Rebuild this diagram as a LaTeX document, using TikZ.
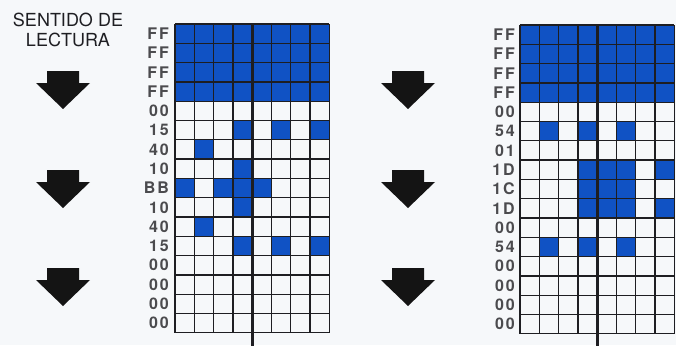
\documentclass[tikz,border=0pt]{standalone}
\usepackage{fontspec}
\setmainfont{TeX Gyre Heros}
\newfontfamily\hexfont[LetterSpace=12]{TeX Gyre Heros}
\usepackage{xcolor}
\usetikzlibrary{positioning}
\definecolor{bitblue}{RGB}{16,82,196}
\definecolor{gridink}{RGB}{30,30,34}
\definecolor{paper}{RGB}{246,248,250}

\begin{document}
\begin{tikzpicture}[
  x=1pt, y=-1pt,
  every node/.style={inner sep=0pt},
  bit/.style={fill=bitblue},
  gridline/.style={draw=gridink, line width=1.3pt},
  axisline/.style={draw=gridink, line width=2.6pt},
  hexlbl/.style={anchor=east, font=\hexfont\bfseries\fontsize{16}{16}\selectfont, text=gridink!80},
  title/.style={font=\fontsize{18}{20}\selectfont, text=gridink},
  readarrow/.style={fill=black!92},
]
\fill[paper] (0,0) rectangle (676,345);
\useasboundingbox (0,0) rectangle (676,345);
% heading
\node[title] (title1) at (68,20) {SENTIDO DE};
\node[title, below=6pt of title1] (title2) {LECTURA};
% reading arrows
\foreach \ax/\ay in {63/71, 63/170, 63/268, 408/71, 408/170, 408/268}
  \fill[readarrow] (\ax-16,\ay) -- (\ax+16,\ay) -- (\ax+16,\ay+12) -- (\ax+27,\ay+12)
    -- (\ax,\ay+38) -- (\ax-27,\ay+12) -- (\ax-16,\ay+12) -- cycle;
% left grid
\begin{scope}[shift={(175,24)}]
  \fill[bit] (0,0) rectangle (8*19.3,4*19.3);
  \foreach \r/\c in {5/4,5/6,5/8, 6/2, 7/4, 8/1,8/3,8/4,8/5, 9/4, 10/2, 11/4,11/6,11/8}
    \fill[bit] ({(\c-1)*19.3},{\r*19.3}) rectangle ++(19.3,19.3);
  \foreach \i in {0,...,8}
    \draw[gridline] (\i*19.3,0) -- (\i*19.3,16*19.3);
  \foreach \j in {0,...,16}
    \draw[gridline] (0,\j*19.3) -- (8*19.3,\j*19.3);
  \draw[axisline] (4*19.3,0) -- (4*19.3,322);
  \foreach \t [count=\r from 0] in {FF,FF,FF,FF,00,15,40,10,BB,10,40,15,00,00,00,00}
    \node[hexlbl] (lhex\r) at (-6,\r*19.3+9.65) {\t};
\end{scope}
% right grid
\begin{scope}[shift={(520,25)}]
  \fill[bit] (0,0) rectangle (8*19.3,4*19.3);
  \foreach \r/\c in {5/2,5/4,5/6, 7/4,7/5,7/6,7/8, 8/4,8/5,8/6, 9/4,9/5,9/6,9/8, 11/2,11/4,11/6}
    \fill[bit] ({(\c-1)*19.3},{\r*19.3}) rectangle ++(19.3,19.3);
  \foreach \i in {0,...,8}
    \draw[gridline] (\i*19.3,0) -- (\i*19.3,16*19.3);
  \foreach \j in {0,...,16}
    \draw[gridline] (0,\j*19.3) -- (8*19.3,\j*19.3);
  \draw[axisline] (4*19.3,0) -- (4*19.3,321);
  \foreach \t [count=\r from 0] in {FF,FF,FF,FF,00,54,01,1D,1C,1D,00,54,00,00,00,00}
    \node[hexlbl] (rhex\r) at (-5,\r*19.3+9.65) {\t};
\end{scope}
\end{tikzpicture}
\end{document}
